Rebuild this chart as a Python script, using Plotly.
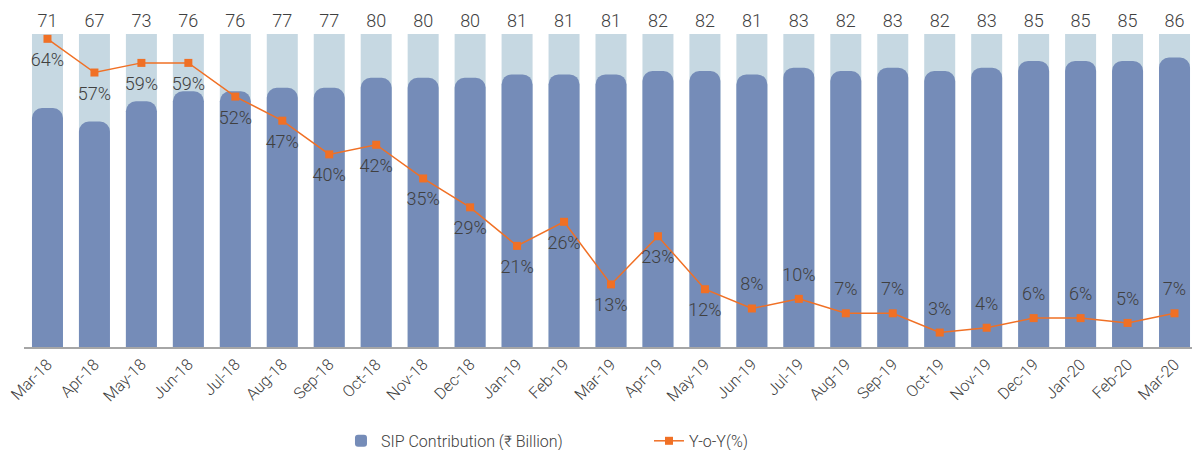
import plotly.graph_objects as go

months = ["Mar-18", "Apr-18", "May-18", "Jun-18", "Jul-18", "Aug-18", "Sep-18", "Oct-18",
          "Nov-18", "Dec-18", "Jan-19", "Feb-19", "Mar-19", "Apr-19", "May-19", "Jun-19",
          "Jul-19", "Aug-19", "Sep-19", "Oct-19", "Nov-19", "Dec-19", "Jan-20", "Feb-20", "Mar-20"]
sip_contribution = [71, 67, 73, 76, 76, 77, 77, 80, 80, 80, 81, 81, 81, 82, 82, 81, 83, 82, 83,
                    82, 83, 85, 85, 85, 86]
yoy_pct = [64, 57, 59, 59, 52, 47, 40, 42, 35, 29, 21, 26, 13, 23, 12, 8, 10, 7, 7, 3, 4, 6, 6, 5, 7]

Y1_MAX = 93
Y2_MAX = 65
background = [Y1_MAX] * len(months)

TEXT = "#404040"
FONT = "Roboto"

label_pos = ["bottom center" if i < 15 else "top center" for i in range(len(months))]
xr = [-0.5, len(months) - 0.5]

fig = go.Figure()
fig.add_trace(go.Bar(
    x=months, y=background, xaxis="x", yaxis="y",
    marker=dict(color="#C6D8E2", cornerradius=0, line=dict(width=0)),
    text=[str(v) for v in sip_contribution], textposition="outside",
    textfont=dict(family=FONT, size=18, color=TEXT, weight=300),
    cliponaxis=False, showlegend=False, hoverinfo="skip", width=0.66,
))
fig.add_trace(go.Bar(
    x=months, y=sip_contribution, name="SIP Contribution (₹ Billion)", xaxis="x2", yaxis="y",
    marker=dict(color="#758CB8", cornerradius=10, line=dict(width=0)), width=0.66,
))
fig.add_trace(go.Scatter(
    x=months, y=yoy_pct, name="Y-o-Y(%)", xaxis="x2", yaxis="y2", mode="lines+markers",
    line=dict(color="#F07025", width=1.5),
    marker=dict(symbol="square", size=8, color="#F07025"), cliponaxis=False,
))
fig.add_trace(go.Scatter(
    x=months, y=yoy_pct, xaxis="x2", yaxis="y2", mode="markers+text",
    marker=dict(size=20, opacity=0),
    text=[f"{v}%" for v in yoy_pct], textposition=label_pos,
    textfont=dict(family=FONT, size=18, color=TEXT, weight=300), cliponaxis=False,
    showlegend=False, hoverinfo="skip",
))

fig.update_layout(
    width=1192, height=442,
    barmode="group",
    plot_bgcolor="white", paper_bgcolor="white",
    margin=dict(l=16, r=2, t=26, b=103, autoexpand=False),
    font=dict(family=FONT, color=TEXT, weight=300),
    xaxis=dict(showline=True, linecolor="#A6A6A6", linewidth=1.5, tickangle=-45,
               automargin=False, range=xr, anchor="y",
               tickfont=dict(family=FONT, size=16, color=TEXT, weight=300), ticks="", showgrid=False),
    xaxis2=dict(overlaying="x", anchor="y", range=xr, visible=False, showgrid=False,
                automargin=False),
    yaxis=dict(range=[0, Y1_MAX], visible=False, showgrid=False, automargin=False, anchor="x"),
    yaxis2=dict(range=[0, Y2_MAX], overlaying="y", visible=False, showgrid=False,
                automargin=False, anchor="x2"),
    legend=dict(orientation="h", x=0.27, xanchor="left", y=-0.3, yanchor="middle",
                entrywidth=263, entrywidthmode="pixels",
                font=dict(family=FONT, size=16, color=TEXT, weight=300)),
)

fig.write_html("out.html")
